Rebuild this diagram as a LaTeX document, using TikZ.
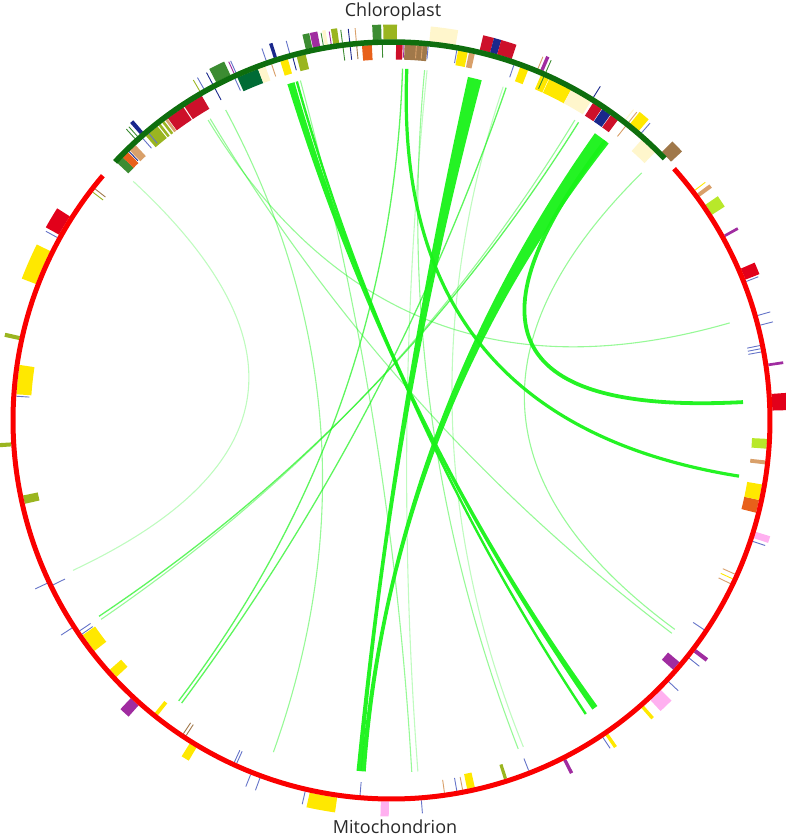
\documentclass[tikz,border=0pt]{standalone}
\usepackage{fontspec}
\setmainfont{Open Sans}
\definecolor{ringred}{RGB}{250,0,0}
\definecolor{ringgreen}{RGB}{14,110,14}
\definecolor{lk}{RGB}{24,242,24}
\definecolor{crim}{RGB}{205,16,42}
\definecolor{mred}{RGB}{226,0,26}
\definecolor{navy}{RGB}{26,40,140}
\definecolor{lblue}{RGB}{100,115,200}
\definecolor{olive}{RGB}{154,181,32}
\definecolor{mgreen}{RGB}{60,140,50}
\definecolor{dgreen}{RGB}{0,107,53}
\definecolor{cream}{RGB}{255,246,204}
\definecolor{tan}{RGB}{217,160,106}
\definecolor{brown}{RGB}{160,120,74}
\definecolor{orng}{RGB}{232,96,26}
\definecolor{yell}{RGB}{255,232,0}
\definecolor{magen}{RGB}{160,44,160}
\definecolor{pink}{RGB}{255,176,240}
\definecolor{lime}{RGB}{184,232,42}
\definecolor{txt}{RGB}{40,40,40}
\def\RL{352}
\def\RC{117.33}
\newcommand\LinkL[3]{\draw[#3] (#1:\RL) .. controls (#1:\RC) and (#2:\RC) .. (#2:\RL);}
\newcommand\Ribbon[5]{\fill[#5] ({#1-#2/2}:\RL) .. controls ({#1-#2/2}:\RC) and ({#3+#4/2}:\RC) .. ({#3+#4/2}:\RL) arc[start angle={#3+#4/2}, end angle={#3-#4/2}, radius=\RL] .. controls ({#3-#4/2}:\RC) and ({#1+#2/2}:\RC) .. ({#1+#2/2}:\RL) arc[start angle={#1+#2/2}, end angle={#1-#2/2}, radius=\RL] -- cycle;}
\newcommand\Fin[3]{\fill[#3] (#1:361) arc[start angle=#1,end angle=#2,radius=361] -- (#2:376) arc[start angle=#2,end angle=#1,radius=376] -- cycle;}
\newcommand\Fout[3]{\fill[#3] (#1:381) arc[start angle=#1,end angle=#2,radius=381] -- (#2:396) arc[start angle=#2,end angle=#1,radius=396] -- cycle;}
\newcommand\Tin[2]{\draw[#2,line width=0.9] (#1:363) -- (#1:376);}
\newcommand\Tout[2]{\draw[#2,line width=0.9] (#1:381) -- (#1:394);}
\tikzset{
  vlight/.style={draw=lk,opacity=0.28,line width=1.1},
  light/.style={draw=lk,opacity=0.45,line width=1.1},
  mid/.style={draw=lk,opacity=0.7,line width=1.3},
  strong/.style={draw=lk,opacity=0.95,line width=3.2},
  lkfill/.style={fill=lk,opacity=0.95},
  lbl/.style={font=\fontsize{18}{20}\selectfont,text=txt,inner sep=0pt}
}
\begin{document}
\begin{tikzpicture}[x=1pt,y=1pt]
\useasboundingbox (-391.5,-418.5) rectangle (394.5,420.5);
% links
\LinkL{137.2}{205.2}{vlight}
\LinkL{121.4}{16.1}{light}
\LinkL{121.0}{322.8}{light}
\LinkL{118.1}{250.4}{light}
\Ribbon{106.6}{1.2}{305.3}{1.0}{lkfill}
\LinkL{105.6}{303.5}{strong,line width=2.4}
\LinkL{105.0}{273.3}{light}
\LinkL{87.5}{350.9}{strong}
\LinkL{88.2}{232.8}{mid}
\LinkL{84.6}{291.1}{light}
\Ribbon{76.3}{2.3}{264.7}{0.8}{lkfill}
\LinkL{71}{233.4}{mid}
\LinkL{57.9}{213.8}{mid}
\LinkL{58.6}{214.4}{light}
\Ribbon{53.3}{2.8}{265.4}{0.8}{lkfill}
\LinkL{52.6}{3}{strong,line width=3.8}
\LinkL{44.7}{323.6}{light}
\LinkL{84.2}{274.3}{vlight}
\LinkL{71.5}{292}{vlight}
% chloroplast features inside
\Fin{135.6}{136.8}{mgreen}
\Fin{134.5}{135.6}{orng}
\Tin{134.3}{navy}
\Fin{132.9}{134.1}{tan}
\Fin{128.5}{130.8}{olive}
\Fin{127.9}{128.3}{olive}
\Fin{127.2}{127.6}{olive}
\Fin{126.6}{127.0}{tan}
\Fin{120.3}{123.4}{crim}
\Fin{123.6}{126.5}{crim}
\Tin{130.2}{lblue}\Tin{131.4}{lblue}
\Tin{118.0}{navy}\Tout{118.0}{navy}
\Fin{110.8}{114.2}{dgreen}
\Fin{109.6}{110.8}{cream}
\Tin{108.6}{tan}
\Tin{114.6}{lblue}
\Fin{106.0}{107.2}{yell}
\Tin{105.2}{navy}
\Fin{103.2}{104.6}{olive}
\Fin{93.0}{94.5}{orng}
\Fin{88.3}{89.3}{crim}
\Tin{88.1}{magen}
\Fin{84.5}{88.0}{brown}
\Tin{86.2}{tan}\Tin{85.3}{tan}
\Tin{84.4}{lblue}
\Fin{78.3}{79.8}{yell}
\Fin{77.2}{78.1}{tan}
\Tin{80.0}{lblue}
\Tin{71.0}{lblue}
\Fin{68.7}{70.0}{yell}
\Fin{65.3}{66.6}{yell}
\Fin{61.5}{65.2}{yell}
\Fin{58.0}{61.5}{cream}
\Fin{56.0}{57.6}{crim}
\Fin{54.4}{55.9}{navy}
\Fin{53.0}{54.3}{crim}
\Fin{45.5}{48.3}{cream}
% chloroplast features outside
\Fout{130.7}{131.3}{navy}
\Tout{131.8}{mgreen}\Tout{132.3}{mgreen}
\Tout{119.5}{lblue}\Tout{120.2}{olive}
\Fout{115.0}{117.4}{mgreen}
\Tout{114.4}{magen}\Tout{114.1}{lblue}
\Tout{109.2}{lblue}
\Fout{107.5}{108.0}{navy}
\Tout{105.5}{lblue}
\Fout{102.0}{103.0}{mgreen}
\Fout{100.8}{101.9}{magen}
\Tout{100.3}{mgreen}
\Fout{99.6}{100.1}{cream}
\Tout{99.1}{magen}
\Fout{97.9}{98.8}{olive}
\Tout{97.4}{mgreen}\Tin{97.4}{mgreen}
\Tout{96.3}{navy}\Tin{96.3}{navy}
\Tout{95.3}{tan}\Tin{95.3}{brown}
\Fout{91.5}{92.8}{mgreen}
\Fout{89.2}{91.2}{olive}
\Tin{91.4}{mgreen}
\Fout{80.3}{84.3}{cream}
\Fout{75.0}{76.6}{crim}
\Fout{73.9}{75.0}{navy}
\Fout{71.6}{73.9}{crim}
\Tout{67.4}{tan}
\Fout{66.5}{67.0}{magen}
\Tout{66.1}{mgreen}\Tin{66.1}{mgreen}
\Tout{58.0}{navy}
\Tout{52.1}{cream}
\Tout{51.5}{tan}\Tin{51.5}{tan}
\Fout{49.5}{51.2}{yell}
\Tout{49.0}{lblue}
\Fout{42.8}{44.8}{brown}
% mito features inside
\Tin{142.0}{brown}\Tin{142.6}{olive}
\Fin{171.5}{176.0}{yell}
\Tin{176.3}{lblue}
\Fin{191.5}{192.8}{olive}
\Tin{205.9}{lblue}
\Tin{214.0}{lblue}\Tin{214.6}{lblue}
\Fin{214.8}{217.8}{yell}
\Fin{221.5}{223.0}{yell}
\Fin{231.0}{231.6}{yell}
\Tin{236.4}{brown}\Tin{236.9}{brown}
\Tin{245.3}{lblue}\Tin{245.7}{lblue}
\Tin{265.2}{lblue}
\Tin{278.1}{tan}\Tin{280.0}{lblue}\Tin{280.9}{tan}
\Fin{281.6}{282.8}{yell}
\Fin{287.4}{287.9}{olive}
\Tin{291.4}{lblue}
\Fin{318.5}{320.0}{magen}
\Tin{326.2}{lblue}
\Tin{334.3}{tan}\Tin{335.1}{yell}\Tin{335.9}{tan}
\Fin{345.8}{347.8}{orng}
\Fin{347.8}{350.2}{yell}
\Fin{353.3}{353.9}{tan}
\Fin{355.7}{357.2}{lime}
\Tin{10.5}{lblue}\Tin{11.0}{lblue}\Tin{11.5}{lblue}
% mito features outside
\Fout{147.6}{150.8}{mred}
\Tout{151.3}{lblue}
\Fout{153.6}{159.0}{yell}
\Fout{167.2}{167.8}{olive}
\Fout{183.3}{183.9}{olive}
\Tout{205.3}{lblue}\Tout{213.0}{lblue}
\Fout{226.8}{228.4}{magen}
\Fout{238.0}{239.2}{yell}
\Tout{248.3}{lblue}\Tout{249.8}{lblue}
\Tout{256.9}{lblue}
\Fout{257.6}{261.8}{yell}
\Fout{268.4}{269.6}{pink}
\Tout{274.5}{lblue}
\Fout{296.8}{297.3}{magen}
\Tout{303.7}{lblue}
\Fout{304.2}{304.7}{yell}
\Fout{311.0}{311.5}{yell}
\Fout{312.8}{315.0}{pink}
\Tout{316.7}{lblue}
\Tout{321.4}{lblue}
\Fout{322.5}{323.1}{magen}
\Tout{341.5}{lblue}
\Fout{342.0}{343.0}{pink}
\Fout{1.5}{4.0}{mred}
\Fout{8.2}{8.6}{magen}
\Tout{14.5}{lblue}\Tout{16.0}{lblue}
\Fout{21.7}{23.5}{mred}
\Tout{21.4}{lblue}
\Fout{28.8}{29.2}{magen}
\Fout{32.7}{34.5}{lime}
\Fout{36.0}{36.6}{tan}
\Tout{37.2}{yell}
% rings
\draw[ringred,line width=5] (139.7:378.5) arc[start angle=139.7,end angle=401.7,radius=378.5];
\draw[ringgreen,line width=5.5] (43.8:378.5) arc[start angle=43.8,end angle=136.9,radius=378.5];
% labels
\node[lbl] (chl) at (1.5,409) {Chloroplast};
\node[lbl] (mit) at (3.5,-406) {Mitochondrion};
\end{tikzpicture}
\end{document}
